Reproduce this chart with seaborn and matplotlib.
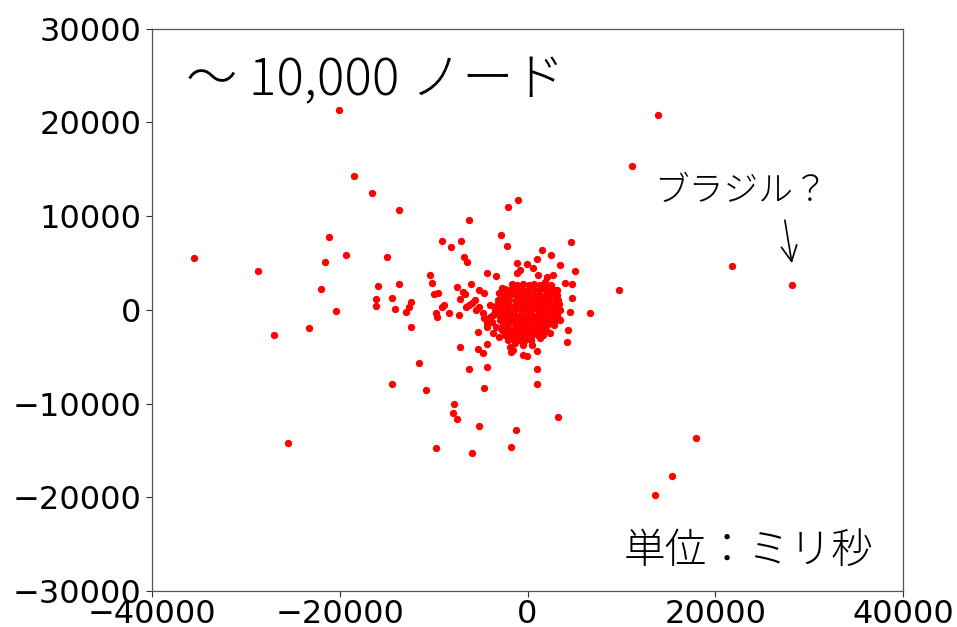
import matplotlib
matplotlib.use("Agg")
import matplotlib.pyplot as plt
import seaborn as sns
import pandas as pd

# Network coordinates (ms) of nodes outside the dense core
outer_x = [
    -35530, -28700, -26990, -25500, -23260, -21980, -21550, -21130, -20380, -20060,
    -19310, -18460, -16540, -14940, -14400, -13660, -15900, -13660, -16110, -16110,
    -14400, -14080, -12380, -12590, -12910, -12380, -11520, -10780, -10350, -10140,
    -9920, -9500, -8860, -9070, -9710, -9600, -8320, -9710, -9070, -8110,
    -7040, -6720, -6400, -6290, -7900, -7790, -7470, -5870, -5120, -6190,
    -7150, -5230, -5230, -4800, -4370, -4270, -4690, -7470, -5980, -6830,
    -6620, -7150, -5120, -4690, -7260, -4270, -3310, -2880, -2240, -2130,
    -1070, -1170, -1710, -1280, -1810, -1920, -110, 430, 960, 960,
    960, 3200, -110, 960, 1490, 2450, 3410, 4590, 5020, 3950,
    4690, 4690, 6620, 4480, 3310, 4270, 4160, 9710, 11100, 13870,
    21770, 28170, 17930, 15360, 13550,
    -6510, -5870, -5440, -4800, -4050, -3730, -4270, -3310, -2670, -2990,
    -4370, -3730, -2990, -1600, -530, -530, -1170, 1070, 2030, 2670,
    3090, 3410,
    -6190, -5650, -5120, -4590, -3840, -3520, -4050, -2450, -2130, -1390,
]
outer_y = [
    5500, 4110, -2730, -14220, -1960, 2200, 5070, 7740, -150, 21290,
    5820, 14240, 12430, 5610, -7930, 10620, 2520, 2730, 1130, 380,
    1240, 60, 810, 280, -260, -1850, -5710, -8570, 3690, 2840,
    1660, 1770, 490, 280, -360, -790, -360, -14760, 7310, 6670,
    7310, 5610, 5070, 9550, -11040, -10080, -11660, -15290, -12410, -6330,
    -3990, -2390, -4200, -4630, -3670, -6120, -8360, 2410, 2730, 1880,
    1660, 1130, 2090, 1770, -580, 3900, 3580, 7950, 6780, 10940,
    11680, 4970, -14650, -12830, -4520, -3990, -4950, -3770, -4410, -6330,
    -7930, -11450, 4860, 5390, 6350, 5820, 4750, 7210, 4110, 2840,
    2730, 1240, -360, -260, -1000, -2170, -3450, 2090, 15310, 20740,
    4650, 2620, -13690, -17740, -19770,
    280, 700, -40, -360, -790, -580, -1430, -1850, -2170, 1770,
    -1850, -2490, -2920, -4310, -3770, -4840, 3900, 3690, 3480, 3690,
    2090, -1110,
    490, 1020, 280, -900, -1320, -40, 490, -2710, -3240, -3560,
]

# Nodes packed into the dense core around the origin
core_x = [
    -850, 530, 1810, -2670, 2880, 2990, 2350, 1280,
    -1700, -1150, -480, 130, 690, 1320, 1880, 2520,
    -2380, -1820, -1230, -570, 40, 610, 1170, 1830, 2380, 2930,
    -2870, -2320, -1690, -1120, -530, 90, 720, 1280, 1930, 2470, 3180,
    -3130, -2480, -1930, -1270, -720, -80, 530, 1090, 1730, 2280, 2920, 3230,
    -3220, -2570, -2030, -1380, -790, -230, 420, 980, 1620, 2170, 2830, 3390,
    -3180, -2630, -1980, -1420, -770, -180, 380, 1030, 1580, 2240, 2770, 3420,
    -3090, -2520, -1880, -1330, -690, -120, 520, 1080, 1720, 2310, 2880, 3170,
    -2920, -2270, -1730, -1080, -520, 130, 680, 1320, 1870, 2530, 3080,
    -2570, -2030, -1380, -820, -170, 430, 970, 1620, 2180, 2810,
    -2230, -1580, -1020, -380, 230, 780, 1420, 2010,
    -1870, -1320, -680, -130, 520, 1080, 1690,
    -1420, -780, -220, 380,
]
core_y = [
    4220, 4430, 2940, 2300, 490, -580, -2490, -3030,
    2720, 2650, 2740, 2680, 2710, 2660, 2730, 2640,
    2170, 2120, 2180, 2140, 2110, 2190, 2130, 2170, 2120, 2160,
    1620, 1580, 1630, 1590, 1640, 1570, 1610, 1620, 1580, 1630, 1590,
    1060, 1040, 1080, 1030, 1070, 1050, 1020, 1080, 1040, 1060, 1030, 1070,
    540, 570, 520, 560, 530, 580, 540, 510, 560, 550, 520, 570,
    10, -30, 20, -20, 40, 0, -10, 30, -40, 20, -10, 10,
    -540, -560, -520, -570, -530, -550, -510, -580, -540, -520, -560, -550,
    -1060, -1030, -1080, -1040, -1070, -1020, -1060, -1090, -1040, -1070, -1050,
    -1590, -1620, -1570, -1610, -1640, -1580, -1600, -1630, -1570, -1610,
    -2140, -2170, -2120, -2160, -2130, -2180, -2150, -2120,
    -2690, -2720, -2670, -2710, -2680, -2730, -2700,
    -3200, -3230, -3180, -3220,
]

x_ticks = [-40000, -20000, 0, 20000, 40000]
y_ticks = [-30000, -20000, -10000, 0, 10000, 20000, 30000]

title_text = "〜 10,000 ノード"
note_text = "ブラジル？"
unit_text = "単位：ミリ秒"
brazil_xy = (28170, 4970)
arrow_tail_xy = (27420, 9550)

nodes = pd.DataFrame({
    "x": outer_x + core_x,
    "y": outer_y + core_y,
})

sns.set_style("ticks")
plt.rcParams["font.family"] = ["DejaVu Sans", "Noto Sans CJK JP"]
plt.rcParams["axes.unicode_minus"] = True

fig = plt.figure(figsize=(9.57, 6.27), dpi=100)
ax = fig.add_axes([0.159, 0.0574, 0.7845, 0.8971])

sns.scatterplot(data=nodes, x="x", y="y", ax=ax, color="#ff0000",
                s=28, linewidth=0, legend=False, zorder=3)

ax.set_xlim(-40000, 40000)
ax.set_ylim(-30000, 30000)
ax.set_xticks(x_ticks)
ax.set_yticks(y_ticks)
ax.tick_params(axis="both", labelsize=23, length=4, width=0.8, colors="#333333",
               labelcolor="black")
ax.tick_params(axis="x", pad=2)
ax.set_xlabel("")
ax.set_ylabel("")
for spine in ax.spines.values():
    spine.set_visible(True)
    spine.set_color("#555555")
    spine.set_linewidth(0.9)

cjk = ["Noto Sans CJK JP", "DejaVu Sans"]
ax.text(0.045, 0.882, title_text, transform=ax.transAxes, fontsize=37,
        family=cjk, fontweight="light", ha="left", va="baseline", color="black")
ax.text(0.785, 0.712, note_text, transform=ax.transAxes, fontsize=25,
        family=cjk, fontweight="light", ha="center", va="center", color="black")
ax.text(0.96, 0.071, unit_text, transform=ax.transAxes, fontsize=30,
        family=cjk, fontweight="light", ha="right", va="center", color="black")
ax.annotate("", xy=brazil_xy, xytext=arrow_tail_xy,
            arrowprops=dict(arrowstyle="->", lw=1.2, color="black",
                            mutation_scale=28, shrinkA=0, shrinkB=0))

fig.savefig("out.png", dpi=100)
